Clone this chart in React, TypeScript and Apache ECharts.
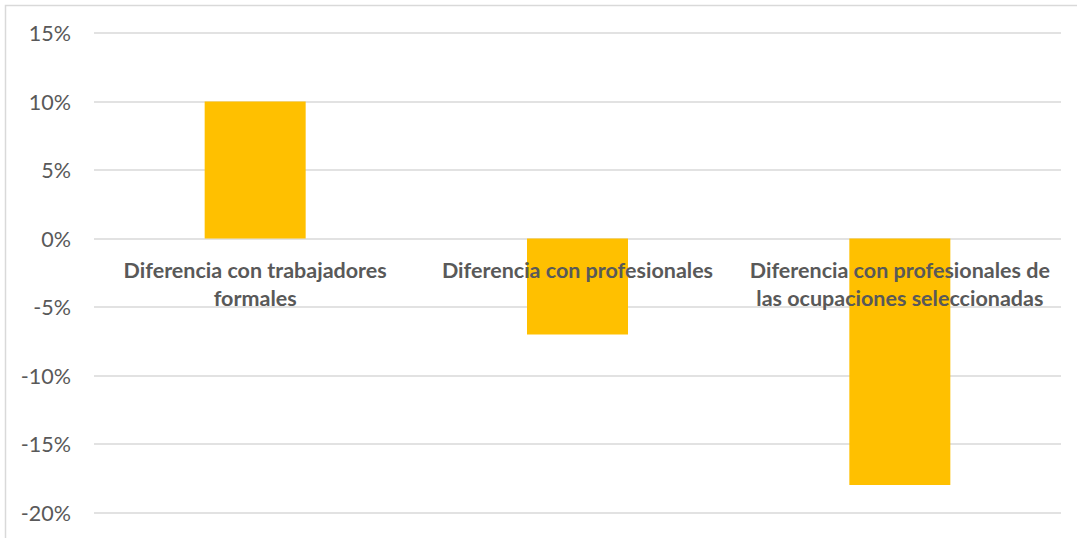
import React, { useEffect, useRef } from "react";
import * as echarts from "echarts";

const categories = [
  "Diferencia con trabajadores\nformales",
  "Diferencia con profesionales",
  "Diferencia con profesionales de\nlas ocupaciones seleccionadas",
];
const values = [10, -7, -18];
const yMin = -20;
const yMax = 15;
const yStep = 5;

const W = 1077;
const H = 538;
const GRID_TOP = 33;
const GRID_BOTTOM = 25.5;

export default function App() {
  const ref = useRef<HTMLDivElement>(null);
  useEffect(() => {
    document.body.style.margin = "0";
    const chart = echarts.init(ref.current!, null, { renderer: "svg" });
    const gridH = H - GRID_TOP - GRID_BOTTOM;
    const zeroOffset = (gridH * (0 - yMin)) / (yMax - yMin);
    chart.setOption({
      animation: false,
      backgroundColor: "#ffffff",
      grid: {
        left: 94,
        right: 16,
        top: GRID_TOP,
        bottom: GRID_BOTTOM,
        containLabel: false,
        outerBoundsMode: "none",
      },
      graphic: [
        {
          type: "rect",
          shape: { x: 5.5, y: 5.5, width: 1100, height: 560 },
          style: { fill: "none", stroke: "#d9d9d9", lineWidth: 1.5 },
          z: -1,
        },
      ],
      xAxis: {
        type: "category",
        data: categories,
        position: "bottom",
        offset: -zeroOffset,
        z: 10,
        axisLine: { show: false },
        axisTick: { show: false },
        axisLabel: {
          interval: 0,
          margin: 17,
          color: "#595959",
          fontFamily: "Lato",
          fontWeight: "bold",
          fontSize: 21.5,
          lineHeight: 28,
        },
      },
      yAxis: {
        type: "value",
        min: yMin,
        max: yMax,
        interval: yStep,
        axisLine: { show: false },
        axisTick: { show: false },
        splitLine: { lineStyle: { color: "#d9d9d9", width: 1.5 } },
        axisLabel: {
          margin: 23,
          color: "#595959",
          fontFamily: "Lato",
          fontSize: 21.5,
          formatter: (v: number) => `${v}%`,
        },
      },
      series: [
        {
          type: "bar",
          data: values,
          barWidth: 101,
          itemStyle: { color: "#FFC000" },
        },
      ],
    });
    return () => chart.dispose();
  }, []);
  return <div ref={ref} style={{ width: W, height: H }} />;
}
